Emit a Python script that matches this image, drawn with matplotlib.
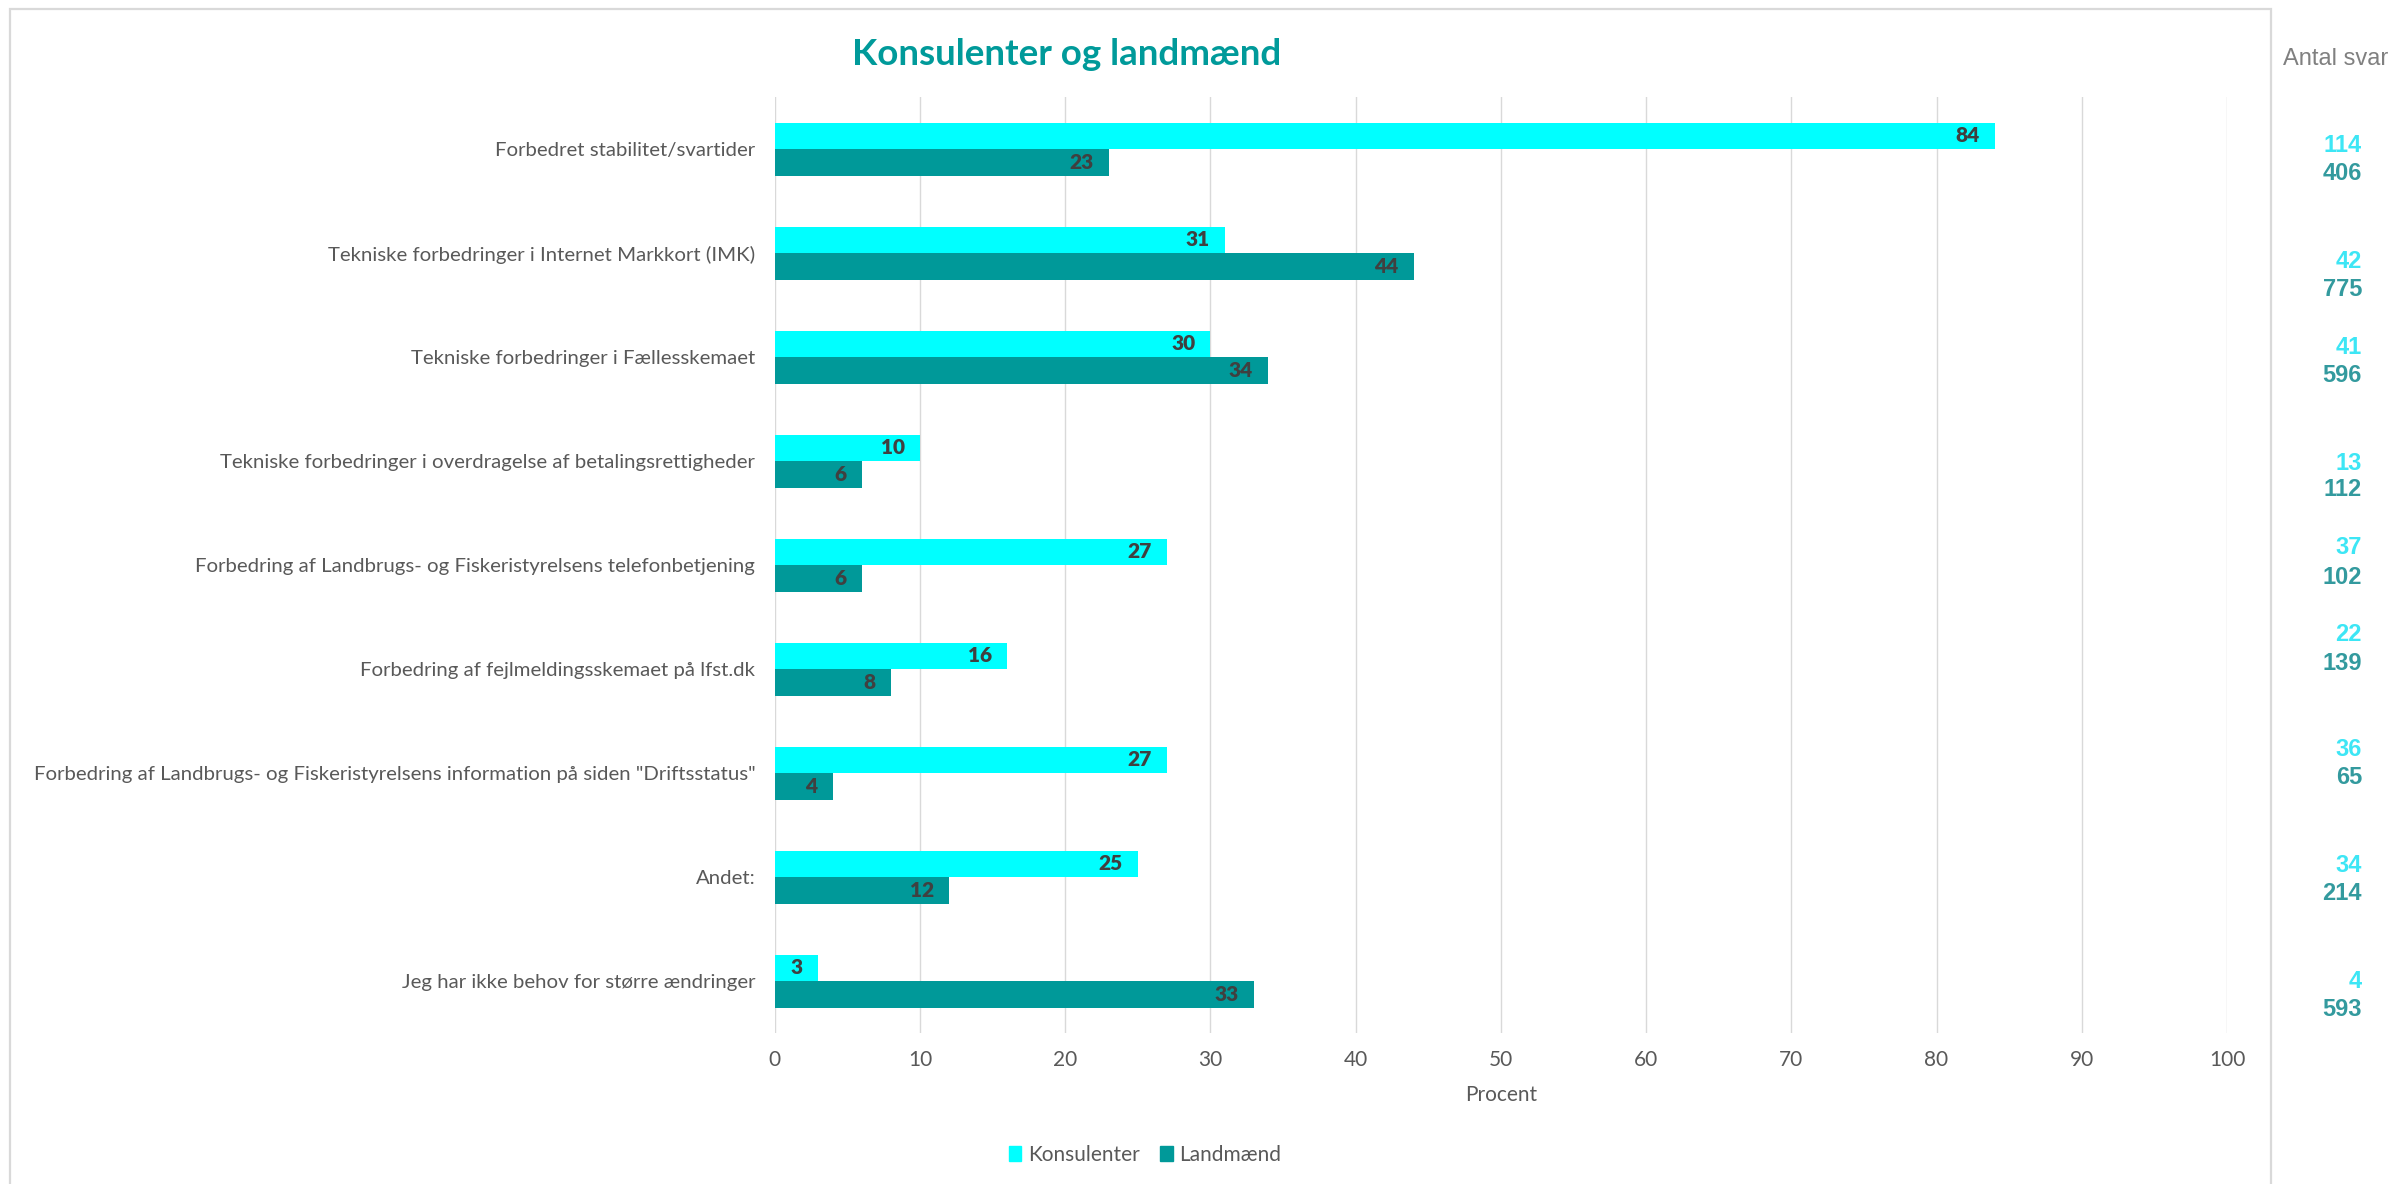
import matplotlib.pyplot as plt
import numpy as np
from matplotlib.patches import Patch, Rectangle

# data
cats = ["Forbedret stabilitet/svartider",
        "Tekniske forbedringer i Internet Markkort (IMK)",
        "Tekniske forbedringer i Fællesskemaet",
        "Tekniske forbedringer i overdragelse af betalingsrettigheder",
        "Forbedring af Landbrugs- og Fiskeristyrelsens telefonbetjening",
        "Forbedring af fejlmeldingsskemaet på lfst.dk",
        "Forbedring af Landbrugs- og Fiskeristyrelsens information på siden \"Driftsstatus\"",
        "Andet:",
        "Jeg har ikke behov for større ændringer"]
konsulenter = [84, 31, 30, 10, 27, 16, 27, 25, 3]
landmaend = [23, 44, 34, 6, 6, 8, 4, 12, 33]
antal_kons = [114, 42, 41, 13, 37, 22, 36, 34, 4]
antal_land = [406, 775, 596, 112, 102, 139, 65, 214, 593]

# layout (pixels from top) of the "Antal svar" numbers
antal_y_kons = [145, 261, 347, 463, 548, 634, 750, 866, 981]
antal_y_land = [174, 289, 375, 490, 577, 663, 778, 894, 1009]

CYAN = '#00FFFF'
TEAL = '#009999'
GREY = '#595959'
LINE = '#d9d9d9'
FONT = ['Lato', 'DejaVu Sans']

W, H = 2394, 1184
fig = plt.figure(figsize=(W / 100, H / 100), dpi=100)

# outer chart frame
fig.patches.append(Rectangle((10 / W, -0.02), 2261 / W, 1.02 - 9 / H,
                             transform=fig.transFigure, fill=False,
                             edgecolor=LINE, linewidth=1.6))

ax = fig.add_axes([774.7 / W, 1 - 1033.3 / H, (2227 - 774.7) / W, (1033.3 - 97.3) / H])

y = np.arange(len(cats))
h = 0.257
b1 = ax.barh(y - h / 2, konsulenter, height=h, color=CYAN, zorder=3)
b2 = ax.barh(y + h / 2, landmaend, height=h, color=TEAL, zorder=3)

for bars, vals in [(b1, konsulenter), (b2, landmaend)]:
    for rect, v in zip(bars, vals):
        ax.annotate(str(v), (v, rect.get_y() + rect.get_height() / 2),
                    xytext=(-11, 0), textcoords='offset points',
                    ha='right', va='center', fontsize=15, fontweight='heavy',
                    color='#404040', family=FONT, zorder=4)

ax.set_xlim(0, 100)
ax.set_ylim(8.5, -0.5)
ax.set_xticks(range(0, 101, 10))
ax.set_yticks(y, cats)
ax.grid(axis='x', color=LINE, linewidth=1.0, zorder=0)
for s in ax.spines.values():
    s.set_visible(False)
ax.tick_params(axis='both', length=0, labelsize=15, labelcolor=GREY)
ax.tick_params(axis='y', labelsize=14.7, pad=14)
ax.tick_params(axis='x', pad=12)
for lab in ax.get_xticklabels() + ax.get_yticklabels():
    lab.set_family(FONT)

fig.text(1501 / W, 1 - 1095 / H, 'Procent', ha='center', va='center',
         fontsize=15, color=GREY, family=FONT)

fig.text(1067 / W, 1 - 65 / H, 'Konsulenter og landmænd', ha='center', va='baseline',
         fontsize=26.5, fontweight='bold', color='#009a9a', family=FONT)

handles = [Patch(color=CYAN, label='Konsulenter'), Patch(color=TEAL, label='Landmænd')]
fig.legend(handles=handles, loc='center', bbox_to_anchor=(1145 / W, 1 - 1155 / H),
           ncol=2, frameon=False, handlelength=0.6, handleheight=0.7,
           handletextpad=0.3, columnspacing=1.0,
           prop={'family': FONT, 'size': 15}, labelcolor=GREY)

# antal svar column
fig.text(2283 / W, 1 - 65 / H, 'Antal svar', ha='left', va='baseline',
         fontsize=17, color='#808080', family='Liberation Sans')
for i in range(len(cats)):
    fig.text(2362 / W, 1 - antal_y_kons[i] / H, str(antal_kons[i]), ha='right', va='center',
             fontsize=17, fontweight='bold', color='#3de6f5', family='Liberation Sans')
    fig.text(2362 / W, 1 - antal_y_land[i] / H, str(antal_land[i]), ha='right', va='center',
             fontsize=17, fontweight='bold', color='#339a9e', family='Liberation Sans')

plt.savefig('out.png', dpi=100)
